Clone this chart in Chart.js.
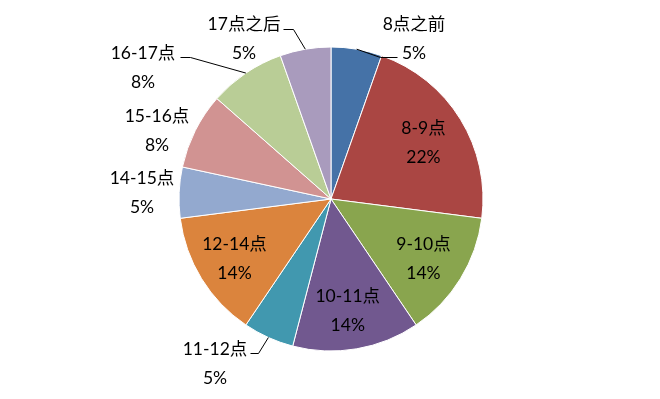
<!DOCTYPE html>
<html>
<head>
<meta charset="utf-8">
<script src="https://cdn.jsdelivr.net/npm/chart.js@4/dist/chart.umd.min.js"></script>
<style>
html,body{margin:0;padding:0;background:#fff;}
#wrap{width:660px;height:399px;position:relative;}
</style>
</head>
<body>
<div id="wrap"><canvas id="c" width="660" height="399"></canvas></div>
<script>
// Data (counts; percentages shown are rounded shares)
const categories = ['8点之前','8-9点','9-10点','10-11点','11-12点','12-14点','14-15点','15-16点','16-17点','17点之后'];
const counts = [2, 8, 5, 5, 2, 5, 2, 3, 3, 2];
const colors = ['#4572A7','#AA4643','#89A54E','#71588F','#4198AF','#DB843D','#93A9CF','#D19392','#B9CD96','#A99BBD'];

// Label layout (style): inside labels along mid-angle; outside labels offset from pie centre
const insideLabels = [1, 2, 3, 5];
const outsideLayout = {
  0: {text: [83, -175], leader: [[66, -142], [49, -142]]},
  9: {text: [-87, -175], leader: [[-48, -170], [-38, -170]]},
  8: {text: [-188, -146], leader: [[-151, -142], [-141, -142]]},
  7: {text: [-174, -83], leader: null},
  6: {text: [-189, -21], leader: null},
  4: {text: [-116, 150], leader: [[-81, 154], [-73, 154]]}
};

const labelPlugin = {
  id: 'pieLabels',
  afterDatasetsDraw(chart) {
    const ctx = chart.ctx;
    const meta = chart.getDatasetMeta(0);
    const data = chart.data.datasets[0].data;
    const total = data.reduce((a, b) => a + b, 0);
    ctx.save();
    ctx.font = '17.5px Lato, "Noto Sans CJK SC", sans-serif';
    ctx.fillStyle = '#000';
    ctx.textAlign = 'center';
    ctx.textBaseline = 'middle';
    const lineGap = 29;
    meta.data.forEach((arc, i) => {
      const p = arc.getProps(['x', 'y', 'startAngle', 'endAngle', 'outerRadius'], true);
      const cx = p.x, cy = p.y, R = p.outerRadius;
      const mid = (p.startAngle + p.endAngle) / 2;
      const pct = Math.round(data[i] / total * 100) + '%';
      const name = chart.data.labels[i];
      if (insideLabels.includes(i)) {
        const r = R * 0.73;
        const lx = cx + Math.cos(mid) * r - 2;
        const ly = cy + Math.sin(mid) * r + 2;
        ctx.fillText(name, lx, ly - lineGap / 2);
        ctx.fillText(pct, lx, ly + lineGap / 2);
      } else {
        const L = outsideLayout[i];
        const tx = cx + L.text[0], ty = cy + L.text[1];
        ctx.fillText(name, tx, ty);
        ctx.fillText(pct, tx, ty + lineGap);
        if (L.leader) {
          const ax = cx + Math.cos(mid) * R;
          const ay = cy + Math.sin(mid) * R;
          ctx.beginPath();
          ctx.strokeStyle = '#000';
          ctx.lineWidth = 1;
          ctx.moveTo(Math.round(cx + L.leader[0][0]) + 0.5, Math.round(cy + L.leader[0][1]) + 0.5);
          ctx.lineTo(Math.round(cx + L.leader[1][0]) + 0.5, Math.round(cy + L.leader[1][1]) + 0.5);
          ctx.lineTo(ax, ay);
          ctx.stroke();
        }
      }
    });
    ctx.restore();
  }
};

new Chart(document.getElementById('c'), {
  type: 'pie',
  data: {
    labels: categories,
    datasets: [{
      data: counts,
      backgroundColor: colors,
      borderColor: '#ffffff',
      borderWidth: 1,
      hoverOffset: 0,
      offset: 0,
      radius: 152
    }]
  },
  options: {
    responsive: false,
    animation: false,
    events: [],
    layout: {padding: {left: 2, right: 0, top: 0, bottom: 1}},
    plugins: {
      legend: {display: false},
      tooltip: {enabled: false}
    }
  },
  plugins: [labelPlugin]
});
</script>
</body>
</html>
